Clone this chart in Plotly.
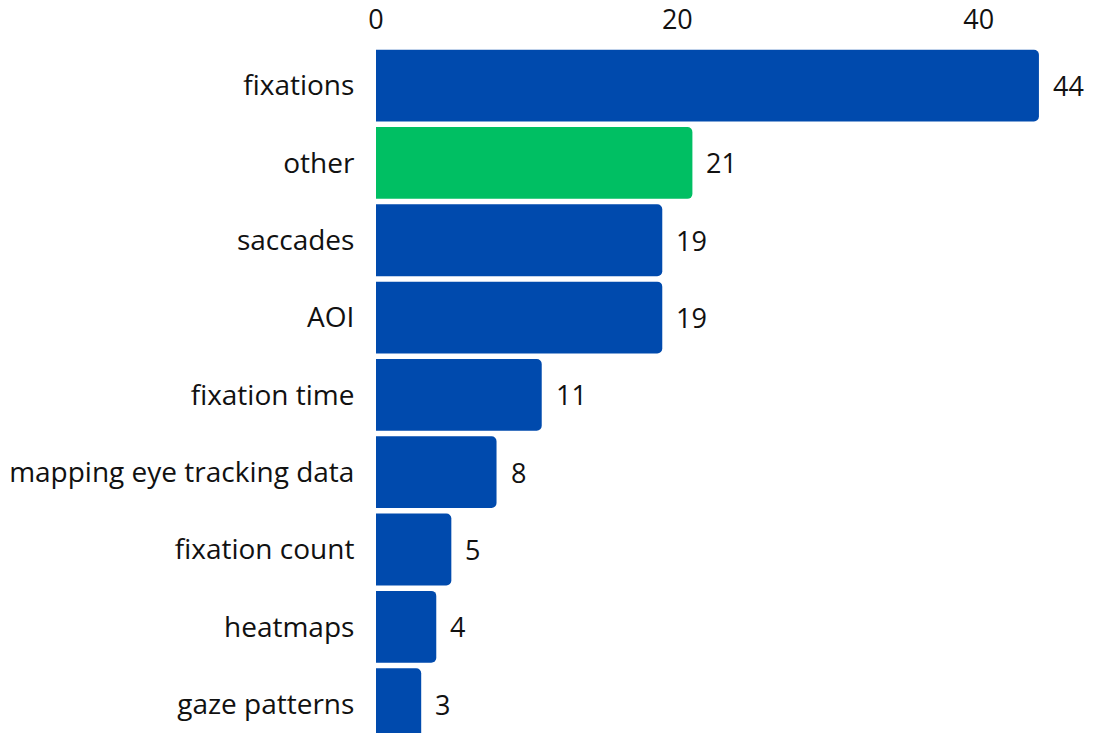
import plotly.graph_objects as go

categories = ["fixations", "other", "saccades", "AOI", "fixation time",
              "mapping eye tracking data", "fixation count", "heatmaps", "gaze patterns"]
values = [44, 21, 19, 19, 11, 8, 5, 4, 3]
colors = ["#004AAD", "#00BF63", "#004AAD", "#004AAD", "#004AAD",
          "#004AAD", "#004AAD", "#004AAD", "#004AAD"]
tick_values = [0, 20, 40]

FONT = "Open Sans, Noto Sans, sans-serif"

fig = go.Figure(go.Bar(
    x=values, y=categories, orientation="h",
    marker=dict(color=colors, cornerradius=5, line=dict(width=0)),
    width=0.929, hoverinfo="x+y",
))

for c, v in zip(categories, values):
    fig.add_annotation(x=v, y=c, text=str(v), showarrow=False,
                       xanchor="left", xshift=12, yshift=0,
                       font=dict(family=FONT, size=27, color="#111111"))

fig.update_layout(
    width=1093, height=733,
    margin=dict(l=376, r=39, t=45, b=0, pad=0),
    paper_bgcolor="white", plot_bgcolor="white",
    font=dict(family=FONT, size=27, color="#111111"),
    showlegend=False,
    xaxis=dict(side="top", range=[0, 45], tickvals=tick_values,
               showgrid=False, zeroline=False, showline=False,
               ticks="outside", ticklen=6, tickcolor="rgba(0,0,0,0)"),
    yaxis=dict(range=[8.374, -0.5], showgrid=False, zeroline=False, showline=False,
               ticks="outside", ticklen=15, tickcolor="rgba(0,0,0,0)",
               tickfont=dict(size=28)),
)

fig.write_html("out.html")
